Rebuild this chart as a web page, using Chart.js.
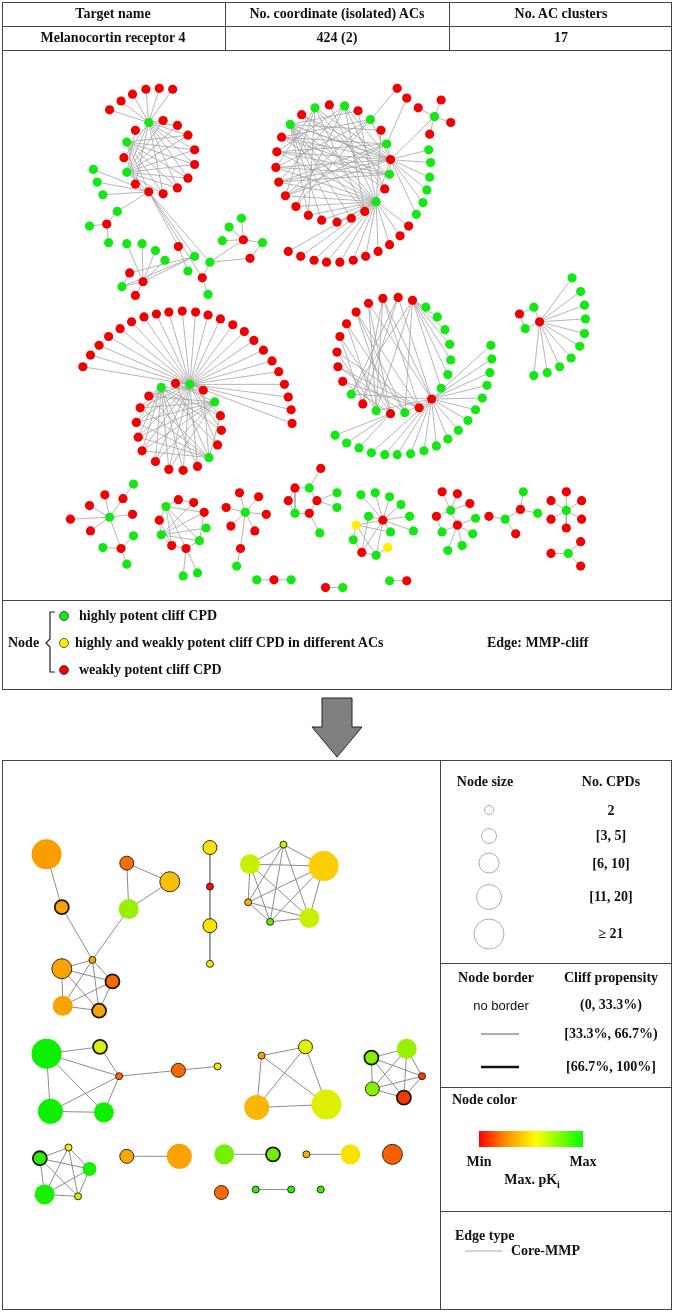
<!DOCTYPE html>
<html>
<head>
<meta charset="utf-8">
<script src="https://cdn.jsdelivr.net/npm/chart.js@4.4.1/dist/chart.umd.min.js"></script>
<style>
  body { margin: 0; background: #fff; }
  #page { position: relative; width: 674px; height: 1313px; font-family: "Liberation Serif", "Times New Roman", serif; font-weight: bold; font-size: 14px; color: #111; }
  #page canvas, #page svg { position: absolute; left: 0; top: 0; }
  .t { position: absolute; white-space: nowrap; transform: translate(-50%, -50%); }
  .l { position: absolute; white-space: nowrap; transform: translateY(-50%); }
  .sans { font-family: "Liberation Sans", Arial, sans-serif; font-weight: normal; font-size: 13px; }
</style>
</head>
<body>
<div id="page">
  <canvas id="netChart" width="674" height="1313"></canvas>
  <svg width="674" height="1313">
    <defs>
      <linearGradient id="pki" x1="0" x2="1" y1="0" y2="0">
        <stop offset="0" stop-color="#ff0000"/>
        <stop offset="0.25" stop-color="#ff8c00"/>
        <stop offset="0.55" stop-color="#ffff00"/>
        <stop offset="1" stop-color="#00ff00"/>
      </linearGradient>
    </defs>
    <g stroke="#444" stroke-width="1" fill="none">
      <rect x="2.5" y="2.5" width="669" height="687"/>
      <line x1="2" y1="26.5" x2="672" y2="26.5"/>
      <line x1="2" y1="50.5" x2="672" y2="50.5"/>
      <line x1="225.5" y1="2" x2="225.5" y2="50"/>
      <line x1="449.5" y1="2" x2="449.5" y2="50"/>
      <line x1="2" y1="600.5" x2="672" y2="600.5"/>
      <rect x="2.5" y="760.5" width="669" height="549"/>
      <line x1="440.5" y1="760" x2="440.5" y2="1310"/>
      <line x1="440" y1="963.5" x2="672" y2="963.5"/>
      <line x1="440" y1="1087.5" x2="672" y2="1087.5"/>
      <line x1="440" y1="1211.5" x2="672" y2="1211.5"/>
    </g>
    <path d="M55,612 H50 V639 L46,643 L50,647 V672 H55" stroke="#222" stroke-width="1.2" fill="none"/>
    <circle cx="64" cy="616" r="4.5" fill="#14e814" stroke="#333" stroke-width="0.8"/>
    <circle cx="64" cy="643" r="4.5" fill="#ffee00" stroke="#333" stroke-width="0.8"/>
    <circle cx="64" cy="670" r="4.5" fill="#f10000" stroke="#333" stroke-width="0.8"/>
    <polygon points="322,698 352,698 352,727 362,727 337,757 312,727 322,727" fill="#808080" stroke="#222" stroke-width="1"/>
    <g stroke="#999" stroke-width="0.8" fill="none">
      <circle cx="489" cy="810" r="4.5"/>
      <circle cx="489" cy="836" r="7.5"/>
      <circle cx="489" cy="863" r="10"/>
      <circle cx="489" cy="897" r="12.5"/>
      <circle cx="489" cy="934" r="15"/>
    </g>
    <line x1="481" y1="1034" x2="519" y2="1034" stroke="#333" stroke-width="0.8"/>
    <line x1="481" y1="1067" x2="519" y2="1067" stroke="#111" stroke-width="2.5"/>
    <rect x="479" y="1131" width="104" height="16" fill="url(#pki)"/>
    <line x1="465" y1="1251" x2="502" y2="1251" stroke="#aaa" stroke-width="1.2"/>
  </svg>

  <div class="t" style="left:113px;top:14px">Target name</div>
  <div class="t" style="left:337px;top:14px">No. coordinate (isolated) ACs</div>
  <div class="t" style="left:561px;top:14px">No. AC clusters</div>
  <div class="t" style="left:113px;top:38px">Melanocortin receptor 4</div>
  <div class="t" style="left:337px;top:38px">424 (2)</div>
  <div class="t" style="left:561px;top:38px">17</div>

  <div class="l" style="left:8px;top:643px">Node</div>
  <div class="l" style="left:79px;top:616px">highly potent cliff CPD</div>
  <div class="l" style="left:75px;top:643px">highly and weakly potent cliff CPD in different ACs</div>
  <div class="l" style="left:79px;top:670px">weakly potent cliff CPD</div>
  <div class="l" style="left:487px;top:643px">Edge: MMP-cliff</div>

  <div class="t" style="left:485px;top:782px">Node size</div>
  <div class="t" style="left:611px;top:782px">No. CPDs</div>
  <div class="t" style="left:611px;top:811px">2</div>
  <div class="t" style="left:611px;top:836px">[3, 5]</div>
  <div class="t" style="left:611px;top:864px">[6, 10]</div>
  <div class="t" style="left:611px;top:897px">[11, 20]</div>
  <div class="t" style="left:611px;top:934px">&ge; 21</div>
  <div class="t" style="left:496px;top:978px">Node border</div>
  <div class="t" style="left:611px;top:978px">Cliff propensity</div>
  <div class="t sans" style="left:501px;top:1005px">no border</div>
  <div class="t" style="left:611px;top:1005px">(0, 33.3%)</div>
  <div class="t" style="left:611px;top:1034px">[33.3%, 66.7%)</div>
  <div class="t" style="left:611px;top:1067px">[66.7%, 100%]</div>
  <div class="l" style="left:452px;top:1100px">Node color</div>
  <div class="t" style="left:479px;top:1162px">Min</div>
  <div class="t" style="left:583px;top:1162px">Max</div>
  <div class="t" style="left:532px;top:1181px">Max. pK<sub style="font-size:10px">i</sub></div>
  <div class="l" style="left:455px;top:1236px">Edge type</div>
  <div class="l" style="left:511px;top:1251px">Core-MMP</div>
</div>

<script>
// Top network: AC clusters, nodes [x, y, type] (G = highly potent, R = weakly potent, Y = both)
const clusterA = [
  [140,110,'G'],[99,97,'R'],[111,88,'R'],[123,81,'R'],[137,76,'R'],[151,75,'R'],[165,76,'R'],
  [155,108,'R'],[170,113,'R'],[181,123,'R'],[188,138,'R'],[188,153,'R'],[181,167,'R'],[170,177,'R'],[155,183,'R'],
  [140,181,'R'],[126,173,'R'],[117,161,'G'],[114,146,'R'],[117,130,'G'],[126,118,'R'],
  [82,158,'G'],[86,171,'G'],[92,184,'G'],[107,201,'G'],[96,214,'R'],[78,216,'G'],[98,233,'G'],
  [171,237,'R'],[188,247,'G'],[204,253,'G'],[196,269,'R'],[202,286,'G'],[181,262,'G'],
  [134,273,'R'],[120,264,'R'],[112,278,'G'],[126,287,'R'],[117,234,'G'],[133,234,'G'],[147,241,'G'],[157,251,'G'],
  [239,230,'R'],[224,217,'G'],[237,208,'G'],[217,231,'G'],[259,233,'G'],[246,249,'R']
];
const clusterAEdges = [
  [0,1,2,3,4,5,6,7,8,9,10,11,12,13,14,16,17,18],
  [17,7,8,9,10,11,12,13,14,20],
  [19,9,10,11,12,13,14,16],
  [15,17,19,21,22,23,24,28,29,30,31],
  [25,24,26,27],[28,33],[29,34,35,36],[34,36,37,38,39,40,41],[35,36],
  [30,31,42,47],[31,32],[42,43,44,45,46],[47,46]
];

const clusterB = [
  [288,112,'G'],[300,102,'R'],[314,95,'G'],[329,92,'R'],[345,93,'G'],[359,98,'R'],[372,107,'G'],[383,118,'R'],
  [389,132,'G'],[393,148,'R'],[392,163,'G'],[387,178,'R'],[378,191,'G'],[366,201,'R'],[352,208,'R'],[337,212,'R'],
  [321,210,'R'],[307,205,'R'],[294,196,'R'],[283,185,'R'],[276,171,'R'],[273,156,'R'],[274,140,'R'],[279,125,'R'],
  [400,75,'R'],[410,85,'R'],[439,104,'G'],[422,95,'R'],[446,87,'R'],[456,110,'R'],[434,122,'R'],
  [433,138,'G'],[435,151,'G'],[434,166,'G'],[431,179,'G'],[427,192,'G'],[420,204,'G'],
  [412,216,'R'],[403,226,'R'],[392,235,'R'],[380,242,'R'],[367,247,'R'],[354,251,'R'],[340,253,'R'],
  [326,253,'R'],[313,251,'R'],[299,247,'R'],[286,242,'R']
];
const clusterBEdges = [
  [0,5,7,9,11,12,13,14,15,16,17],
  [12,1,3,5,7,15,16,17,18,19,20,21,22,23],
  [9,0,2,4,6,8,10,12,19,20,21,22,23,1],
  [2,11,13,17,19,21],[4,11,13,18,20,22],[6,18,19,21,23],[8,19,20,22,23],[10,20,21,22,23,1],
  [24,6],[25,8],[26,9,27,28,29,30],
  [9,31,32,33,34,35,36],
  [12,37,38,39,40,41,42,43,44,45,46,47]
];

const clusterC = [
  [183,378,'G'],
  [71,360,'R'],[79,348,'R'],[88,338,'R'],[98,329,'R'],[110,321,'R'],[122,314,'R'],[135,309,'R'],[148,306,'R'],
  [161,304,'R'],[175,303,'R'],[189,304,'R'],[202,307,'R'],[215,311,'R'],[228,317,'R'],[240,324,'R'],[250,333,'R'],
  [260,343,'R'],[269,354,'R'],[276,365,'R'],[282,378,'R'],[286,391,'R'],[289,404,'R'],[290,418,'R'],
  [168,377,'R'],[153,381,'G'],[140,390,'R'],[131,402,'R'],[127,417,'R'],[129,432,'R'],[133,446,'R'],[147,457,'R'],
  [161,465,'R'],[176,466,'R'],[191,462,'R'],[203,453,'G'],[212,440,'R'],[216,425,'R'],[215,410,'R'],[209,396,'G'],[197,384,'R']
];
const clusterCEdges = [
  [0,1,2,3,4,5,6,7,8,9,10,11,12,13,14,15,16,17,18,19,20,21,22,23],
  [0,24,26,27,28,29,30,31,32,33,34,36,37,38,40],
  [25,26,27,28,29,30,31,32,33,34,36,37,38,40],
  [35,24,26,27,28,29,30,38,40],
  [39,24,26,27,28,29,30,31,32]
];

const clusterD = [
  [416,292,'R'],[401,289,'R'],[385,290,'R'],[370,295,'R'],[357,304,'R'],[347,316,'R'],[340,329,'R'],[337,345,'R'],
  [338,360,'R'],[343,375,'R'],
  [352,388,'G'],[364,398,'R'],[378,405,'G'],[393,408,'R'],[408,407,'G'],[423,402,'R'],[436,393,'R'],
  [446,382,'G'],[453,368,'G'],[456,353,'G'],[455,337,'G'],[450,322,'G'],[442,309,'G'],[430,299,'G'],
  [498,338,'G'],[499,352,'G'],[497,366,'G'],[494,379,'G'],[489,392,'G'],[482,404,'G'],[474,415,'G'],[464,425,'G'],
  [453,434,'G'],[441,441,'G'],[428,446,'G'],[414,449,'G'],[400,450,'G'],[387,450,'G'],[373,448,'G'],[360,443,'G'],
  [347,438,'G'],[335,430,'G']
];
const clusterDEdges = [
  [0,10,12,14,17,18,19,20,21,22,23],
  [16,10,12,14,1,2,3,24,25,26,27,28,29,30,31,32,33,34,35,36,37,38],
  [13,39,40,41],
  [1,10,11],[2,11,12],[3,12,13],[4,13,14],[5,12,14],[6,11,13],[7,12,15],[8,14,15],[9,13,15],[15,2,4]
];

const clusterE = [
  [549,314,'R'],[528,306,'R'],[543,299,'G'],[534,321,'G'],
  [583,269,'G'],[592,283,'G'],[596,297,'G'],[597,311,'G'],[596,326,'G'],[591,339,'G'],[582,351,'G'],
  [570,360,'G'],[557,366,'G'],[543,369,'G']
];
const clusterEEdges = [[0,2,3,4,5,6,7,8,9,10,11,12,13],[1,2,3]];

const clusterF = [
  [99,514,'G'],[58,516,'R'],[79,528,'R'],[78,502,'R'],[94,491,'R'],[113,495,'R'],[124,480,'G'],[123,511,'R'],
  [111,546,'R'],[92,545,'G'],[124,533,'G'],[117,562,'G']
];
const clusterFEdges = [[0,1,2,3,4,5,7,8],[5,6],[8,9,10,11]];

const clusterG = [
  [158,503,'G'],[171,496,'R'],[187,499,'R'],[198,509,'R'],[200,525,'G'],[193,538,'G'],[179,546,'R'],[164,543,'R'],
  [153,532,'G'],[151,517,'R'],[176,574,'G'],[191,571,'G']
];
const clusterGEdges = [[0,1,3,5,6,7,9],[1,2],[8,2,3,4,5,7,9],[3,5],[5,6],[6,7,10,11],[9,7]];

const clusterH = [
  [241,509,'G'],[235,489,'R'],[255,493,'R'],[263,511,'R'],[251,528,'R'],[226,523,'R'],[221,504,'R'],
  [236,546,'R'],[232,564,'G']
];
const clusterHEdges = [[0,1,2,3,4,5,6,7],[7,8]];

const clusterI = [
  [320,464,'R'],[308,484,'G'],[293,484,'R'],[286,497,'R'],[293,510,'G'],[308,510,'R'],[316,497,'R'],
  [319,530,'G'],[337,489,'G'],[337,504,'G']
];
const clusterIEdges = [[0,1],[1,2,6],[2,3,4],[3,4],[4,5],[5,6,7],[6,8,9]];

const clusterJ = [
  [385,517,'R'],[362,491,'G'],[377,489,'G'],[392,493,'G'],[404,501,'G'],[413,513,'G'],[417,528,'G'],[393,529,'G'],
  [370,513,'G'],[357,522,'Y'],[390,545,'Y'],[354,537,'G'],[363,550,'R'],[378,553,'G']
];
const clusterJEdges = [[0,1,2,3,4,5,6,7,8,9,12,13],[9,11,13,7],[11,12],[12,13,8],[13,10]];

const clusterK = [
  [456,507,'G'],[447,488,'R'],[463,490,'R'],[476,500,'R'],[441,513,'R'],[463,522,'R'],[447,529,'G'],
  [482,515,'G'],[479,531,'G'],[453,548,'G'],[468,543,'G']
];
const clusterKEdges = [[0,1,2,3,4,5],[4,6],[5,6,7,8,9,10]];

const clusterL = [[496,513,'R'],[513,516,'G'],[529,506,'R'],[532,488,'G'],[547,510,'G'],[524,531,'R']];
const clusterLEdges = [[1,0,2,5],[2,3,4]];

const clusterM = [[577,507,'G'],[577,488,'R'],[593,497,'R'],[593,516,'R'],[577,525,'R'],[561,516,'R'],[561,497,'R']];
const clusterMEdges = [[0,1,2,3,4,5,6]];

const clusterN = [[579,551,'G'],[561,551,'R'],[592,539,'R'],[592,564,'R']];
const clusterNEdges = [[0,1,2,3]];

const pairsTop = [
  [[253,578,'G'],[271,578,'R'],[289,578,'G']],
  [[325,586,'R'],[343,586,'G']],
  [[392,579,'G'],[410,579,'R']]
];
const pairsTopEdges = [[[0,1],[1,2]], [[0,1]], [[0,1]]];

// Bottom network (AC clusters): [x, y, No. CPDs class 0-4, cliff propensity class 0-2, scaled max pKi 0-1]
const acNet1 = [
  [33,859,4,0,0.33],[49,913,1,2,0.34],[117,868,1,1,0.23],[162,887,2,1,0.40],[119,915,2,0,0.70],
  [81,967,0,1,0.33],[49,976,2,1,0.34],[102,989,1,2,0.22],[50,1014,2,0,0.34],[88,1019,1,2,0.34]
];
const acNet1Edges = [[0,1],[1,5],[5,4,6,7,8,9],[4,2,3],[2,3],[6,7,8,9],[7,8,9],[8,9]];
const acNet2 = [[204,852,1,1,0.47],[204,892,0,1,0.02],[204,932,1,1,0.47],[204,971,0,1,0.49]];
const acNet2Edges = [[0,1],[1,2],[2,3]];
const acNet3 = [[281,849,0,1,0.60],[246,869,2,0,0.60],[323,871,4,0,0.43],[244,908,0,1,0.37],[267,928,0,1,0.80],[308,924,2,0,0.60]];
const acNet3Edges = [[0,1,2,3,4,5],[1,2,3,4,5],[2,3,4,5],[3,4,5],[4,5]];
const acNet4 = [[33,1063,4,0,0.98],[89,1056,1,2,0.56],[109,1086,0,1,0.22],[37,1122,3,0,0.97],[93,1123,2,0,0.97],[171,1080,1,1,0.22],[212,1076,0,1,0.48]];
const acNet4Edges = [[0,1,2,3,4],[1,2],[2,3,4,5],[3,4],[5,6]];
const acNet5 = [[258,1065,0,1,0.33],[304,1056,1,1,0.55],[253,1118,3,0,0.38],[326,1115,4,0,0.56]];
const acNet5Edges = [[0,1,2,3],[1,2,3],[2,3]];
const acNet6 = [[373,1067,1,2,0.73],[410,1058,2,0,0.70],[426,1086,0,1,0.12],[374,1099,1,1,0.73],[407,1108,1,2,0.12]];
const acNet6Edges = [[0,1,2,3,4],[1,2,3,4],[2,3,4],[3,4]];
const acNet7 = [[26,1170,1,2,0.92],[56,1159,0,1,0.52],[78,1181,1,0,0.95],[31,1207,2,0,0.95],[66,1209,0,1,0.60]];
const acNet7Edges = [[0,1,2,3,4],[1,2,3,4],[2,3,4],[3,4]];
const acNetSmall = [
  [[117,1168,1,1,0.35],[172,1168,3,0,0.34]],
  [[219,1166,2,0,0.77],[270,1166,1,2,0.78]],
  [[305,1166,0,1,0.37],[351,1166,2,0,0.47]],
  [[395,1166,2,1,0.20]],
  [[216,1205,1,1,0.22]],
  [[252,1202,0,1,0.90],[289,1202,0,1,0.90]],
  [[320,1202,0,1,0.90]]
];
const acNetSmallEdges = [[[0,1]],[[0,1]],[[0,1]],[],[],[[0,1]],[]];

const typeColors = { G: '#14e814', R: '#f10000', Y: '#ffee00' };
const cpdRadius = [3.5, 7, 10, 12.5, 15];
const borderWidths = [0, 0.9, 1.8];

function pkiColor(t) {
  let r, g;
  if (t < 0.5) { r = 255; g = 510 * t; } else { r = 255 * (2 - 2 * t); g = 255; }
  return 'rgb(' + Math.round(r * 0.98) + ',' + Math.round(g * 0.94) + ',0)';
}

function addEdges(nodes, adj, out) {
  adj.forEach((list) => {
    const s = nodes[list[0]];
    list.slice(1).forEach((k) => {
      const e = nodes[k];
      out.push({ x: s[0], y: s[1] }, { x: e[0], y: e[1] }, { x: null, y: null });
    });
  });
}

// top network
const topClusters = [
  [clusterA, clusterAEdges], [clusterB, clusterBEdges], [clusterC, clusterCEdges], [clusterD, clusterDEdges],
  [clusterE, clusterEEdges], [clusterF, clusterFEdges], [clusterG, clusterGEdges], [clusterH, clusterHEdges],
  [clusterI, clusterIEdges], [clusterJ, clusterJEdges], [clusterK, clusterKEdges], [clusterL, clusterLEdges],
  [clusterM, clusterMEdges], [clusterN, clusterNEdges]
];
pairsTop.forEach((n, i) => topClusters.push([n, pairsTopEdges[i]]));

const topPoints = [], topColors = [], topEdges = [];
topClusters.forEach(([nodes, adj]) => {
  nodes.forEach((n) => { topPoints.push({ x: n[0], y: n[1] }); topColors.push(typeColors[n[2]]); });
  addEdges(nodes, adj, topEdges);
});

// bottom network
const bottomClusters = [
  [acNet1, acNet1Edges], [acNet2, acNet2Edges], [acNet3, acNet3Edges], [acNet4, acNet4Edges],
  [acNet5, acNet5Edges], [acNet6, acNet6Edges], [acNet7, acNet7Edges]
];
acNetSmall.forEach((n, i) => bottomClusters.push([n, acNetSmallEdges[i]]));

const botPoints = [], botColors = [], botRadius = [], botBorder = [], botEdges = [];
bottomClusters.forEach(([nodes, adj]) => {
  nodes.forEach((n) => {
    botPoints.push({ x: n[0], y: n[1] });
    botRadius.push(cpdRadius[n[2]]);
    botBorder.push(borderWidths[n[3]]);
    botColors.push(pkiColor(n[4]));
  });
  addEdges(nodes, adj, botEdges);
});

const ctx = document.getElementById('netChart').getContext('2d');
new Chart(ctx, {
  type: 'scatter',
  data: {
    datasets: [
      {
        type: 'line', data: topEdges, borderColor: '#a3a3a3', borderWidth: 0.8,
        pointRadius: 0, spanGaps: false, tension: 0, fill: false, order: 3,
      },
      {
        type: 'line', data: botEdges, borderColor: '#8c8c8c', borderWidth: 1,
        pointRadius: 0, spanGaps: false, tension: 0, fill: false, order: 3,
      },
      {
        data: topPoints, pointRadius: 4.6, pointBackgroundColor: topColors,
        pointBorderWidth: 0, pointBorderColor: 'rgba(0,0,0,0)', order: 1,
      },
      {
        data: botPoints, pointRadius: botRadius, pointBackgroundColor: botColors,
        pointBorderWidth: botBorder, pointBorderColor: '#1a1a1a', order: 1,
      },
    ],
  },
  options: {
    responsive: false,
    animation: false,
    events: [],
    layout: { padding: 0 },
    plugins: { legend: { display: false }, tooltip: { enabled: false } },
    scales: {
      x: { type: 'linear', min: 0, max: 674, display: false },
      y: { type: 'linear', min: 0, max: 1313, reverse: true, display: false },
    },
  },
});
</script>
</body>
</html>
